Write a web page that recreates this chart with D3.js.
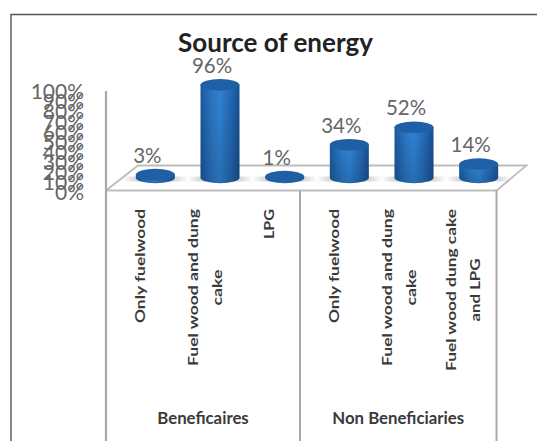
<!DOCTYPE html>
<html>
<head>
<meta charset="utf-8">
<script src="https://cdn.jsdelivr.net/npm/d3@7"></script>
<style>
html,body{margin:0;padding:0;background:#fff}
svg{display:block}
text{font-family:Lato,"Open Sans",sans-serif}
</style>
</head>
<body>
<svg id="chart" width="537" height="441"></svg>
<script>
// Share of households by source of energy
const titleText = "Source of energy";
const groups = ["Beneficaires", "Non Beneficiaries"];
const groupSizes = [3, 3];
const categoryLines = [
  ["Only fuelwood"],
  ["Fuel wood and dung", "cake"],
  ["LPG"],
  ["Only fuelwood"],
  ["Fuel wood and dung", "cake"],
  ["Fuel wood dung cake", "and LPG"]
];
const values = [3, 96, 1, 34, 52, 14];
const tickValues = [0, 10, 20, 30, 40, 50, 60, 70, 80, 90, 100];

const svg = d3.select("#chart");

// Plot geometry of the pseudo-3D box
const frontLeft = 106, frontRight = 496.5, frontY = 190.5;
const depthX = 32, depthY = 25;
const barBaseY = 177.5, barRx = 19.5, barRy = 5.8;

const x = d3.scaleBand().domain(d3.range(values.length)).range([frontLeft, 494]);
const barShift = 17;
const yBar = d3.scaleLinear().domain([0, 100]).range([barBaseY, 81]);
const yAxis = d3.scaleLinear().domain([0, 100]).range([193, 92]);

const defs = svg.append("defs");
const side = defs.append("linearGradient").attr("id", "cylSide");
[[0, "#1b5a9e"], [0.3, "#2b78c6"], [0.5, "#3083d4"], [0.8, "#2267b2"], [1, "#184f8f"]]
  .forEach(([o, c]) => side.append("stop").attr("offset", o).attr("stop-color", c));
const shade = defs.append("linearGradient").attr("id", "cylShade").attr("x2", 0).attr("y2", 1);
shade.append("stop").attr("offset", 0).attr("stop-color", "#000").attr("stop-opacity", 0);
shade.append("stop").attr("offset", 1).attr("stop-color", "#000").attr("stop-opacity", 0.16);
const floorShadow = defs.append("linearGradient").attr("id", "floorShadow");
[[0, 0], [0.5, 0.6], [1, 0]].forEach(([o, a]) =>
  floorShadow.append("stop").attr("offset", o).attr("stop-color", "#555").attr("stop-opacity", a));

// Outer frame: top and left edges reach the image border
svg.append("path")
  .attr("d", d3.line()([[11, 441], [11, 14.5], [537, 14.5]]))
  .attr("fill", "none").attr("stroke", "#555").attr("stroke-width", 1.4);

svg.append("text")
  .attr("x", 275.5).attr("y", 52)
  .attr("text-anchor", "middle")
  .attr("font-size", 26).attr("font-weight", 700).attr("fill", "#222")
  .text(titleText);

// Value axis labels sit close together and overlap, as the tick spacing is small
const axisG = svg.append("g").attr("transform", "translate(84,0)")
  .call(d3.axisLeft(yAxis).tickValues(tickValues).tickSize(0).tickPadding(0).tickFormat(d => d + "%"));
axisG.select(".domain").remove();
axisG.selectAll("text")
  .attr("font-size", 21).attr("fill", "#666").style("font-family", "Lato,sans-serif");

// Floor parallelogram and the dividers hanging below it
const gray = "#bdbdbd";
svg.append("path")
  .attr("d", d3.line()([[frontLeft, frontY], [frontLeft + depthX, frontY - depthY], [frontRight + depthX - 2, frontY - depthY], [frontRight, frontY], [frontLeft, frontY]]))
  .attr("fill", "#fff").attr("stroke", gray).attr("stroke-width", 1.8);

svg.append("line").attr("x1", frontLeft).attr("x2", frontLeft).attr("y1", 91).attr("y2", 441)
  .attr("stroke", "#a8a8a8").attr("stroke-width", 2.2);

let cursor = 0;
groupSizes.forEach(n => {
  cursor += n;
  const edge = cursor === values.length ? frontRight : x(cursor);
  svg.append("line").attr("x1", edge).attr("x2", edge).attr("y1", frontY).attr("y2", 441)
    .attr("stroke", "#a8a8a8").attr("stroke-width", 2);
});

// Cylinders
const bars = svg.append("g").selectAll("g").data(values).join("g")
  .attr("transform", (d, i) => `translate(${x(i) + x.bandwidth() / 2 + barShift},0)`);

bars.append("rect")
  .attr("x", -barRx - 13).attr("width", 2 * barRx + 26)
  .attr("y", barBaseY - 1).attr("height", 5)
  .attr("fill", "url(#floorShadow)");

const body = d => {
  const top = yBar(d);
  return `M${-barRx},${top}L${-barRx},${barBaseY}A${barRx},${barRy} 0 0 0 ${barRx},${barBaseY}L${barRx},${top}Z`;
};
bars.append("path").attr("d", body).attr("fill", "url(#cylSide)");
bars.append("path").attr("d", body).attr("fill", "url(#cylShade)");
bars.append("ellipse")
  .attr("cy", d => yBar(d)).attr("rx", barRx).attr("ry", barRy)
  .attr("fill", "#1f5fa6");

bars.append("text")
  .attr("text-anchor", "middle")
  .attr("x", -8)
  .attr("y", d => yBar(d) - 12)
  .attr("font-size", 20.5).attr("fill", "#666")
  .text(d => d + "%");

// Rotated category labels; lines of one label are centred on each other
const lineLen = { "Only fuelwood": 114, "Fuel wood and dung": 157, "cake": 36, "LPG": 30, "Fuel wood dung cake": 162, "and LPG": 63 };
const labelTop = 209;
const lineGap = 24;
categoryLines.forEach((lines, i) => {
  const widest = d3.max(lines, l => lineLen[l]);
  const midY = labelTop + widest / 2;
  const cx = x(i) + x.bandwidth() / 2 + 1.5;
  lines.forEach((line, k) => {
    const lx = cx + (k - (lines.length - 1) / 2) * lineGap;
    svg.append("text")
      .attr("transform", `translate(${lx},${midY}) rotate(-90)`)
      .attr("text-anchor", "middle")
      .attr("dominant-baseline", "central")
      .attr("font-size", 13.5).attr("font-weight", 700).attr("fill", "#3a3a3a")
      .attr("textLength", lineLen[line]).attr("lengthAdjust", "spacingAndGlyphs")
      .text(line);
  });
});

// Group captions under each set of categories
let start = 0;
groupSizes.forEach((n, g) => {
  const left = x(start);
  const right = start + n === values.length ? frontRight : x(start + n);
  svg.append("text")
    .attr("x", (left + right) / 2).attr("y", 424)
    .attr("text-anchor", "middle")
    .attr("font-size", 16.8).attr("font-weight", 700).attr("fill", "#3a3a3a")
    .text(groups[g]);
  start += n;
});
</script>
</body>
</html>
